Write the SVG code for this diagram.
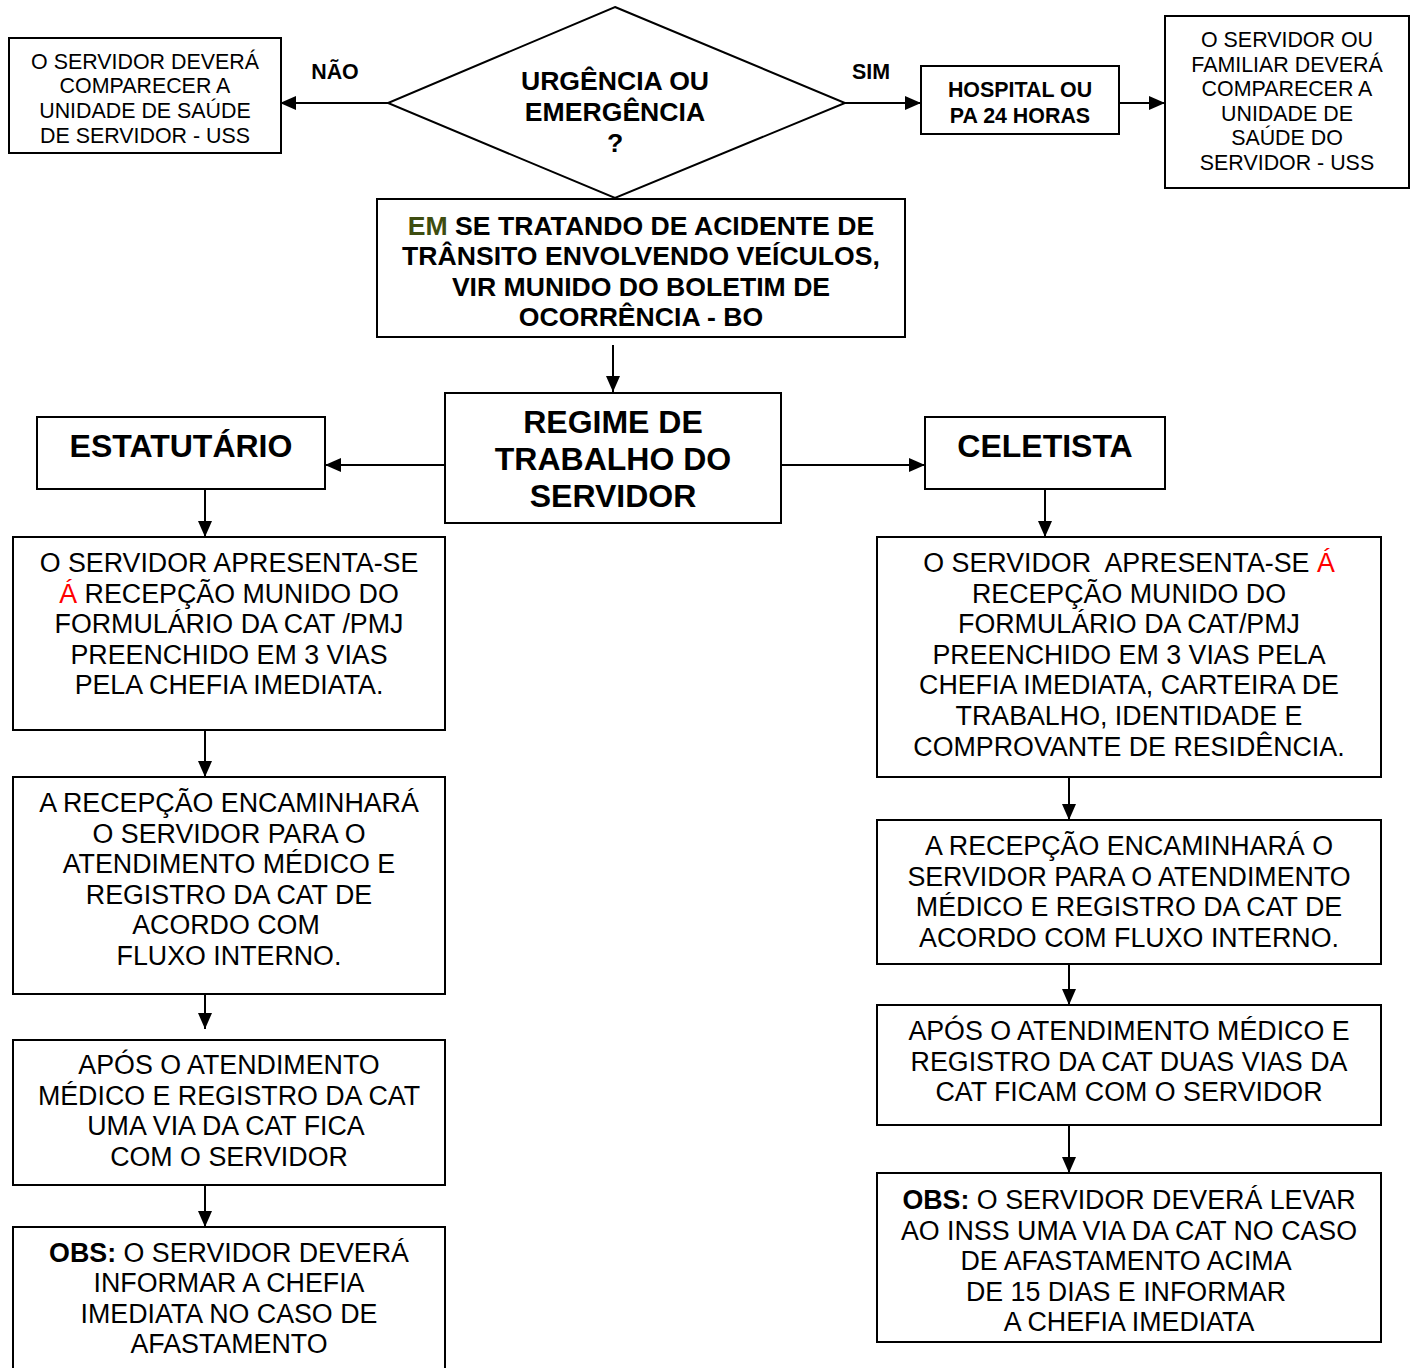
<svg xmlns="http://www.w3.org/2000/svg" width="1415" height="1368" viewBox="0 0 1415 1368">
  <style>
    .box { fill: #ffffff; stroke: #000000; stroke-width: 2; }
    .wire { fill: none; stroke: #000000; stroke-width: 2; }
    text { font-family: "Liberation Sans", Arial, sans-serif; fill: #000000; text-anchor: middle; white-space: pre; }
    .sm { font-size: 21.4px; }
    .smb { font-size: 21.4px; font-weight: bold; }
    .md { font-size: 26.8px; }
    .mdb { font-size: 26.6px; font-weight: bold; }
    .lg { font-size: 32px; font-weight: bold; }
    .b { font-weight: bold; }
    .red { fill: #ff0000; }
    .olive { fill: #3e4d10; }
  </style>
  <defs>
    <marker id="arrow" viewBox="0 0 16 14" refX="16" refY="7" markerWidth="16" markerHeight="14" markerUnits="userSpaceOnUse" orient="auto">
      <path d="M0,0 L16,7 L0,14 Z" fill="#000000"/>
    </marker>
  </defs>

  <rect x="0" y="0" width="1415" height="1368" fill="#ffffff"/>

  <!-- connectors -->
  <g id="connectors">
    <line class="wire" x1="388" y1="103" x2="280" y2="103" marker-end="url(#arrow)"/>
    <line class="wire" x1="845" y1="103" x2="921" y2="103" marker-end="url(#arrow)"/>
    <line class="wire" x1="1119" y1="103" x2="1165" y2="103" marker-end="url(#arrow)"/>
    <line class="wire" x1="613" y1="345" x2="613" y2="392" marker-end="url(#arrow)"/>
    <line class="wire" x1="445" y1="465" x2="325" y2="465" marker-end="url(#arrow)"/>
    <line class="wire" x1="781" y1="465" x2="925" y2="465" marker-end="url(#arrow)"/>
    <line class="wire" x1="205" y1="489" x2="205" y2="537" marker-end="url(#arrow)"/>
    <line class="wire" x1="205" y1="730" x2="205" y2="777" marker-end="url(#arrow)"/>
    <line class="wire" x1="205" y1="982" x2="205" y2="1029" marker-end="url(#arrow)"/>
    <line class="wire" x1="205" y1="1185" x2="205" y2="1227" marker-end="url(#arrow)"/>
    <line class="wire" x1="1045" y1="489" x2="1045" y2="537" marker-end="url(#arrow)"/>
    <line class="wire" x1="1069" y1="777" x2="1069" y2="820" marker-end="url(#arrow)"/>
    <line class="wire" x1="1069" y1="957" x2="1069" y2="1005" marker-end="url(#arrow)"/>
    <line class="wire" x1="1069" y1="1125" x2="1069" y2="1173" marker-end="url(#arrow)"/>
    <text class="smb" x="335" y="78.5">NÃO</text>
    <text class="smb" x="871" y="78.5">SIM</text>
  </g>

  <!-- decision -->
  <g id="decisao">
    <polygon class="box" points="615,7 845,103 615,198 388,103"/>
    <text class="mdb" x="615" y="89.5">URGÊNCIA OU</text>
    <text class="mdb" x="615" y="120.5">EMERGÊNCIA</text>
    <text class="mdb" x="615" y="151.5">?</text>
  </g>

  <g id="uss-nao">
    <rect class="box" x="9" y="38" width="272" height="115"/>
    <text class="sm" x="145" y="68.5">O SERVIDOR DEVERÁ</text>
    <text class="sm" x="145" y="93.2">COMPARECER A</text>
    <text class="sm" x="145" y="117.9">UNIDADE DE SAÚDE</text>
    <text class="sm" x="145" y="142.6">DE SERVIDOR - USS</text>
  </g>

  <g id="hospital">
    <rect class="box" x="921" y="66" width="198" height="68"/>
    <text class="smb" x="1020" y="96.5">HOSPITAL OU</text>
    <text class="smb" x="1020" y="122.5">PA 24 HORAS</text>
  </g>

  <g id="uss-sim">
    <rect class="box" x="1165" y="16" width="244" height="172"/>
    <text class="sm" x="1287" y="47">O SERVIDOR OU</text>
    <text class="sm" x="1287" y="71.5">FAMILIAR DEVERÁ</text>
    <text class="sm" x="1287" y="96">COMPARECER A</text>
    <text class="sm" x="1287" y="120.5">UNIDADE DE</text>
    <text class="sm" x="1287" y="145">SAÚDE DO</text>
    <text class="sm" x="1287" y="169.5">SERVIDOR - USS</text>
  </g>

  <g id="boletim">
    <rect class="box" x="377" y="199" width="528" height="138"/>
    <text class="mdb" x="641" y="234.5"><tspan class="olive">EM</tspan> SE TRATANDO DE ACIDENTE DE</text>
    <text class="mdb" x="641" y="265.1">TRÂNSITO ENVOLVENDO VEÍCULOS,</text>
    <text class="mdb" x="641" y="295.7">VIR MUNIDO DO BOLETIM DE</text>
    <text class="mdb" x="641" y="326.3">OCORRÊNCIA - BO</text>
  </g>

  <g id="regime">
    <rect class="box" x="445" y="393" width="336" height="130"/>
    <text class="lg" x="613" y="432.5">REGIME DE</text>
    <text class="lg" x="613" y="469.5">TRABALHO DO</text>
    <text class="lg" x="613" y="506.5">SERVIDOR</text>
  </g>

  <g id="estatutario">
    <rect class="box" x="37" y="417" width="288" height="72"/>
    <text class="lg" x="181" y="457">ESTATUTÁRIO</text>
  </g>

  <g id="celetista">
    <rect class="box" x="925" y="417" width="240" height="72"/>
    <text class="lg" x="1045" y="457">CELETISTA</text>
  </g>

  <!-- estatutário column -->
  <g id="est-recepcao">
    <rect class="box" x="13" y="537" width="432" height="193"/>
    <text class="md" x="229" y="572">O SERVIDOR APRESENTA-SE</text>
    <text class="md" x="229" y="602.6"><tspan class="red">Á</tspan> RECEPÇÃO MUNIDO DO</text>
    <text class="md" x="229" y="633.2">FORMULÁRIO DA CAT /PMJ</text>
    <text class="md" x="229" y="663.8">PREENCHIDO EM 3 VIAS</text>
    <text class="md" x="229" y="694.4">PELA CHEFIA IMEDIATA.</text>
  </g>

  <g id="est-encaminha">
    <rect class="box" x="13" y="777" width="432" height="217"/>
    <text class="md" x="229" y="812">A RECEPÇÃO ENCAMINHARÁ</text>
    <text class="md" x="229" y="842.6">O SERVIDOR PARA O</text>
    <text class="md" x="229" y="873.2">ATENDIMENTO MÉDICO E</text>
    <text class="md" x="229" y="903.8">REGISTRO DA CAT DE</text>
    <text class="md" x="226" y="934.4">ACORDO COM</text>
    <text class="md" x="229" y="965">FLUXO INTERNO.</text>
  </g>

  <g id="est-apos">
    <rect class="box" x="13" y="1040" width="432" height="145"/>
    <text class="md" x="229" y="1074">APÓS O ATENDIMENTO</text>
    <text class="md" x="229" y="1104.6">MÉDICO E REGISTRO DA CAT</text>
    <text class="md" x="226" y="1135.2">UMA VIA DA CAT FICA</text>
    <text class="md" x="229" y="1165.8">COM O SERVIDOR</text>
  </g>

  <g id="est-obs">
    <rect class="box" x="13" y="1227" width="432" height="160"/>
    <text class="md" x="229" y="1261.5"><tspan class="b">OBS:</tspan> O SERVIDOR DEVERÁ</text>
    <text class="md" x="229" y="1292.1">INFORMAR A CHEFIA</text>
    <text class="md" x="229" y="1322.7">IMEDIATA NO CASO DE</text>
    <text class="md" x="229" y="1353.3">AFASTAMENTO</text>
  </g>

  <!-- celetista column -->
  <g id="cel-recepcao">
    <rect class="box" x="877" y="537" width="504" height="240"/>
    <text class="md" x="1129" y="572">O SERVIDOR  APRESENTA-SE <tspan class="red">Á</tspan></text>
    <text class="md" x="1129" y="602.6">RECEPÇÃO MUNIDO DO</text>
    <text class="md" x="1129" y="633.2">FORMULÁRIO DA CAT/PMJ</text>
    <text class="md" x="1129" y="663.8">PREENCHIDO EM 3 VIAS PELA</text>
    <text class="md" x="1129" y="694.4">CHEFIA IMEDIATA, CARTEIRA DE</text>
    <text class="md" x="1129" y="725">TRABALHO, IDENTIDADE E</text>
    <text class="md" x="1129" y="755.6">COMPROVANTE DE RESIDÊNCIA.</text>
  </g>

  <g id="cel-encaminha">
    <rect class="box" x="877" y="820" width="504" height="144"/>
    <text class="md" x="1129" y="855">A RECEPÇÃO ENCAMINHARÁ O</text>
    <text class="md" x="1129" y="885.6">SERVIDOR PARA O ATENDIMENTO</text>
    <text class="md" x="1129" y="916.2">MÉDICO E REGISTRO DA CAT DE</text>
    <text class="md" x="1129" y="946.8">ACORDO COM FLUXO INTERNO.</text>
  </g>

  <g id="cel-apos">
    <rect class="box" x="877" y="1005" width="504" height="120"/>
    <text class="md" x="1129" y="1040">APÓS O ATENDIMENTO MÉDICO E</text>
    <text class="md" x="1129" y="1070.6">REGISTRO DA CAT DUAS VIAS DA</text>
    <text class="md" x="1129" y="1101.2">CAT FICAM COM O SERVIDOR</text>
  </g>

  <g id="cel-obs">
    <rect class="box" x="877" y="1173" width="504" height="169"/>
    <text class="md" x="1129" y="1209"><tspan class="b">OBS:</tspan> O SERVIDOR DEVERÁ LEVAR</text>
    <text class="md" x="1129" y="1239.6">AO INSS UMA VIA DA CAT NO CASO</text>
    <text class="md" x="1126" y="1270.2">DE AFASTAMENTO ACIMA</text>
    <text class="md" x="1126" y="1300.8">DE 15 DIAS E INFORMAR</text>
    <text class="md" x="1129" y="1331.4">A CHEFIA IMEDIATA</text>
  </g>
</svg>
